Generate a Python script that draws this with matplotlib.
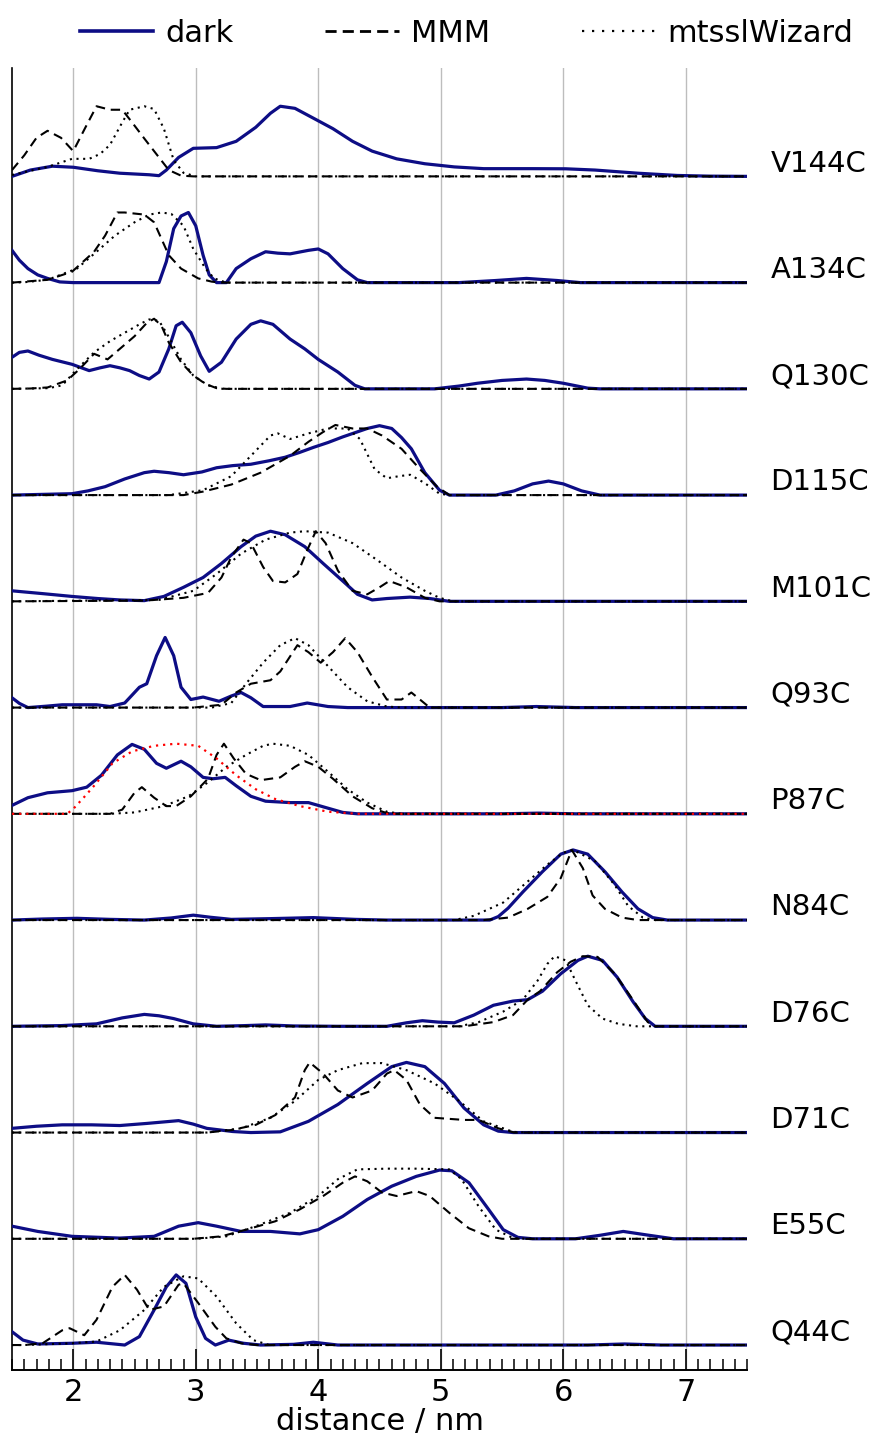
import numpy as np
import matplotlib
matplotlib.use('Agg')
import matplotlib.pyplot as plt
from matplotlib.lines import Line2D

# panel labels, top to bottom
labels = ['V144C', 'A134C', 'Q130C', 'D115C', 'M101C', 'Q93C',
          'P87C', 'N84C', 'D76C', 'D71C', 'E55C', 'Q44C']

# distance distributions (nm, normalised height)
v144c_dark = [(1.5,0.0),(1.65,0.09),(1.83,0.145),(2.0,0.13),(2.2,0.08),(2.38,0.045),(2.62,0.023),(2.70,0.01),(2.76,0.09),(2.86,0.27),(2.98,0.40),(3.17,0.41),(3.33,0.50),(3.49,0.70),(3.61,0.90),(3.69,1.0),(3.81,0.97),(3.96,0.83),(4.12,0.68),(4.28,0.50),(4.44,0.36),(4.64,0.25),(4.87,0.18),(5.11,0.135),(5.35,0.11),(5.74,0.11),(6.02,0.108),(6.26,0.09),(6.61,0.045),(6.93,0.013),(7.2,0.003),(7.5,0.0)]
v144c_mmm = [(1.5,0.09),(1.6,0.3),(1.7,0.55),(1.79,0.65),(1.9,0.55),(2.0,0.36),(2.1,0.7),(2.19,1.0),(2.30,0.95),(2.40,0.95),(2.48,0.77),(2.58,0.54),(2.70,0.27),(2.78,0.09),(2.88,0.01),(2.98,0.0),(7.5,0.0)]
v144c_mtssl = [(1.5,0.02),(1.65,0.08),(1.79,0.135),(1.99,0.25),(2.13,0.25),(2.22,0.32),(2.30,0.45),(2.40,0.77),(2.46,0.95),(2.58,1.0),(2.66,0.96),(2.74,0.68),(2.82,0.23),(2.90,0.05),(3.0,0.0),(7.5,0.0)]

a134c_dark = [(1.5,0.46),(1.56,0.32),(1.63,0.20),(1.71,0.11),(1.79,0.06),(1.89,0.01),(2.0,0.0),(2.70,0.0),(2.76,0.30),(2.82,0.77),(2.88,0.95),(2.94,1.0),(3.0,0.81),(3.06,0.39),(3.11,0.11),(3.17,0.0),(3.25,0.0),(3.33,0.20),(3.45,0.34),(3.57,0.44),(3.67,0.42),(3.77,0.41),(3.92,0.46),(4.0,0.48),(4.08,0.41),(4.20,0.20),(4.32,0.04),(4.40,0.0),(5.15,0.0),(5.45,0.03),(5.70,0.06),(5.95,0.03),(6.14,0.0),(7.5,0.0)]
a134c_mmm = [(1.5,0.0),(1.79,0.04),(1.99,0.155),(2.17,0.44),(2.26,0.67),(2.36,1.0),(2.42,1.0),(2.58,0.97),(2.66,0.86),(2.78,0.39),(2.88,0.20),(3.02,0.06),(3.13,0.014),(3.2,0.0),(7.5,0.0)]
a134c_mtssl = [(1.5,0.0),(1.6,0.005),(1.79,0.04),(2.03,0.20),(2.19,0.44),(2.34,0.67),(2.50,0.86),(2.62,0.97),(2.72,1.0),(2.80,0.98),(2.90,0.81),(2.98,0.48),(3.08,0.20),(3.15,0.06),(3.25,0.0),(7.5,0.0)]

q130c_dark = [(1.5,0.45),(1.56,0.52),(1.63,0.54),(1.72,0.48),(1.83,0.42),(1.99,0.35),(2.13,0.26),(2.22,0.30),(2.30,0.33),(2.38,0.30),(2.46,0.26),(2.54,0.19),(2.62,0.14),(2.70,0.24),(2.78,0.57),(2.84,0.90),(2.89,0.95),(2.96,0.80),(3.04,0.47),(3.11,0.25),(3.21,0.38),(3.33,0.71),(3.45,0.92),(3.53,0.97),(3.63,0.92),(3.77,0.71),(3.89,0.57),(4.0,0.42),(4.16,0.24),(4.30,0.05),(4.38,0.0),(4.95,0.0),(5.15,0.04),(5.3,0.08),(5.5,0.12),(5.7,0.14),(5.85,0.12),(6.0,0.08),(6.2,0.01),(6.3,0.0),(7.5,0.0)]
q130c_mmm = [(1.5,0.0),(1.65,0.005),(1.79,0.02),(1.95,0.12),(2.05,0.28),(2.17,0.50),(2.28,0.42),(2.38,0.57),(2.50,0.75),(2.60,0.94),(2.66,1.0),(2.72,0.90),(2.78,0.66),(2.88,0.38),(2.98,0.19),(3.08,0.07),(3.17,0.01),(3.25,0.0),(7.5,0.0)]
q130c_mtssl = [(1.5,0.0),(1.8,0.01),(1.91,0.05),(2.03,0.28),(2.17,0.52),(2.30,0.68),(2.42,0.80),(2.54,0.92),(2.62,0.99),(2.70,0.97),(2.76,0.80),(2.88,0.42),(2.98,0.19),(3.10,0.05),(3.22,0.0),(7.5,0.0)]

d115c_dark = [(1.5,0.0),(1.99,0.02),(2.12,0.06),(2.26,0.12),(2.42,0.23),(2.58,0.32),(2.66,0.34),(2.78,0.32),(2.90,0.29),(3.05,0.33),(3.17,0.39),(3.30,0.42),(3.45,0.44),(3.60,0.49),(3.73,0.54),(3.85,0.61),(3.96,0.68),(4.08,0.75),(4.20,0.83),(4.30,0.89),(4.40,0.95),(4.50,0.99),(4.60,0.95),(4.68,0.82),(4.76,0.66),(4.87,0.32),(4.99,0.07),(5.07,0.0),(5.45,0.0),(5.6,0.06),(5.75,0.16),(5.88,0.20),(6.0,0.16),(6.15,0.06),(6.3,0.0),(7.5,0.0)]
d115c_mmm = [(1.5,0.0),(2.90,0.0),(3.06,0.05),(3.29,0.15),(3.53,0.32),(3.77,0.56),(3.92,0.76),(4.04,0.90),(4.14,1.0),(4.28,0.95),(4.40,0.95),(4.52,0.85),(4.68,0.66),(4.83,0.37),(4.97,0.12),(5.07,0.0),(7.5,0.0)]
d115c_mtssl = [(1.5,0.0),(2.78,0.0),(3.06,0.07),(3.29,0.27),(3.45,0.56),(3.61,0.85),(3.67,0.88),(3.77,0.80),(3.92,0.88),(4.08,0.95),(4.24,0.95),(4.34,0.80),(4.46,0.37),(4.56,0.24),(4.66,0.27),(4.75,0.29),(4.87,0.17),(4.99,0.02),(5.07,0.0),(7.5,0.0)]

m101c_dark = [(1.5,0.15),(1.75,0.11),(1.99,0.07),(2.2,0.04),(2.38,0.02),(2.58,0.01),(2.74,0.07),(2.90,0.20),(3.06,0.34),(3.21,0.54),(3.37,0.78),(3.49,0.93),(3.61,1.0),(3.73,0.95),(3.89,0.78),(4.04,0.54),(4.20,0.29),(4.32,0.10),(4.44,0.02),(4.56,0.04),(4.75,0.06),(4.91,0.04),(5.07,0.0),(7.5,0.0)]
m101c_mmm = [(1.5,0.0),(2.58,0.01),(2.90,0.05),(3.10,0.12),(3.21,0.34),(3.29,0.63),(3.39,0.88),(3.45,0.83),(3.55,0.49),(3.63,0.29),(3.73,0.27),(3.83,0.39),(3.91,0.73),(3.98,1.0),(4.06,0.83),(4.16,0.44),(4.28,0.15),(4.40,0.10),(4.50,0.2),(4.58,0.29),(4.72,0.20),(4.87,0.05),(4.99,0.0),(7.5,0.0)]
m101c_mtssl = [(1.5,0.0),(2.70,0.02),(2.98,0.15),(3.17,0.39),(3.37,0.68),(3.57,0.88),(3.77,0.98),(3.89,1.0),(4.08,0.98),(4.28,0.83),(4.48,0.59),(4.68,0.34),(4.87,0.15),(4.99,0.05),(5.1,0.0),(7.5,0.0)]

q93c_dark = [(1.5,0.14),(1.56,0.06),(1.63,0.0),(1.78,0.02),(1.91,0.04),(2.19,0.04),(2.30,0.015),(2.42,0.065),(2.54,0.29),(2.60,0.34),(2.68,0.74),(2.75,1.0),(2.82,0.74),(2.88,0.29),(2.96,0.115),(3.06,0.15),(3.19,0.09),(3.29,0.165),(3.37,0.215),(3.45,0.14),(3.55,0.015),(3.77,0.015),(3.91,0.065),(4.08,0.015),(4.24,0.0),(5.5,0.0),(5.78,0.015),(6.1,0.0),(7.5,0.0)]
q93c_mmm = [(1.5,0.0),(2.98,0.0),(3.21,0.04),(3.33,0.215),(3.45,0.34),(3.61,0.39),(3.69,0.515),(3.83,0.89),(3.92,0.79),(4.02,0.64),(4.12,0.79),(4.22,0.99),(4.32,0.79),(4.44,0.44),(4.56,0.115),(4.68,0.115),(4.76,0.215),(4.83,0.115),(4.91,0.0),(7.5,0.0)]
q93c_mtssl = [(1.5,0.0),(3.13,0.0),(3.29,0.065),(3.41,0.34),(3.55,0.64),(3.69,0.89),(3.81,0.99),(3.92,0.89),(4.08,0.59),(4.24,0.29),(4.40,0.09),(4.56,0.015),(4.68,0.0),(7.5,0.0)]

p87c_dark = [(1.5,0.12),(1.63,0.23),(1.79,0.30),(1.99,0.33),(2.11,0.38),(2.23,0.55),(2.36,0.84),(2.48,0.99),(2.58,0.92),(2.68,0.72),(2.76,0.65),(2.88,0.75),(2.96,0.67),(3.06,0.52),(3.14,0.50),(3.24,0.52),(3.33,0.40),(3.45,0.25),(3.57,0.18),(3.77,0.16),(3.92,0.16),(4.08,0.08),(4.20,0.02),(4.32,0.0),(5.5,0.0),(5.8,0.01),(6.1,0.0),(7.5,0.0)]
p87c_mmm = [(1.5,0.0),(2.30,0.0),(2.40,0.06),(2.50,0.30),(2.56,0.38),(2.66,0.23),(2.76,0.11),(2.84,0.11),(2.96,0.25),(3.10,0.50),(3.17,0.84),(3.23,1.0),(3.31,0.79),(3.41,0.57),(3.53,0.48),(3.69,0.52),(3.81,0.67),(3.89,0.75),(4.00,0.67),(4.12,0.50),(4.28,0.25),(4.44,0.08),(4.56,0.01),(4.62,0.0),(7.5,0.0)]
p87c_mtssl = [(1.5,0.0),(2.30,0.0),(2.50,0.02),(2.74,0.11),(2.94,0.25),(3.10,0.45),(3.25,0.67),(3.41,0.84),(3.55,0.97),(3.63,1.0),(3.77,0.97),(3.92,0.84),(4.08,0.60),(4.24,0.35),(4.40,0.16),(4.56,0.03),(4.68,0.0),(7.5,0.0)]
p87c_fit = [(1.5,0.0),(1.95,0.0),(2.0,0.07),(2.1,0.26),(2.17,0.40),(2.32,0.72),(2.48,0.89),(2.66,0.97),(2.84,1.0),(3.02,0.97),(3.17,0.79),(3.33,0.55),(3.49,0.35),(3.65,0.21),(3.85,0.11),(4.08,0.03),(4.32,0.0),(7.5,0.0)]

n84c_dark = [(1.5,0.0),(1.75,0.015),(2.03,0.025),(2.3,0.01),(2.58,0.0),(2.8,0.03),(2.98,0.07),(3.12,0.04),(3.29,0.01),(3.6,0.02),(3.96,0.035),(4.3,0.01),(4.56,0.0),(5.40,0.0),(5.47,0.05),(5.55,0.17),(5.67,0.40),(5.83,0.69),(5.98,0.94),(6.08,1.0),(6.20,0.94),(6.34,0.69),(6.48,0.40),(6.61,0.16),(6.73,0.035),(6.85,0.0),(7.5,0.0)]
n84c_mmm = [(1.5,0.0),(5.35,0.0),(5.55,0.035),(5.71,0.16),(5.87,0.33),(5.98,0.60),(6.07,1.0),(6.16,0.74),(6.24,0.35),(6.34,0.16),(6.48,0.035),(6.61,0.0),(7.5,0.0)]
n84c_mtssl = [(1.5,0.0),(5.11,0.0),(5.27,0.06),(5.51,0.25),(5.71,0.55),(5.87,0.79),(6.00,0.96),(6.08,1.0),(6.26,0.84),(6.42,0.50),(6.53,0.20),(6.65,0.035),(6.75,0.0),(7.5,0.0)]

d76c_dark = [(1.5,0.0),(1.9,0.01),(2.19,0.035),(2.4,0.12),(2.58,0.17),(2.70,0.15),(2.82,0.11),(2.98,0.035),(3.17,0.0),(3.4,0.01),(3.57,0.02),(3.8,0.005),(4.16,0.0),(4.56,0.0),(4.72,0.05),(4.85,0.08),(4.98,0.06),(5.11,0.05),(5.27,0.16),(5.43,0.30),(5.59,0.36),(5.71,0.38),(5.83,0.50),(5.98,0.75),(6.12,0.94),(6.20,1.0),(6.32,0.94),(6.44,0.70),(6.57,0.35),(6.67,0.11),(6.75,0.0),(7.5,0.0)]
d76c_mmm = [(1.5,0.0),(5.19,0.0),(5.43,0.06),(5.59,0.16),(5.71,0.38),(5.81,0.50),(5.95,0.77),(6.06,0.92),(6.16,1.0),(6.28,0.99),(6.42,0.75),(6.56,0.40),(6.69,0.06),(6.75,0.0),(7.5,0.0)]
d76c_mtssl = [(1.5,0.0),(5.15,0.0),(5.31,0.06),(5.51,0.21),(5.67,0.38),(5.79,0.65),(5.87,0.89),(5.93,1.0),(6.02,0.94),(6.10,0.65),(6.20,0.30),(6.32,0.11),(6.45,0.035),(6.6,0.0),(7.5,0.0)]

d71c_dark = [(1.5,0.06),(1.7,0.09),(1.91,0.11),(2.15,0.11),(2.38,0.10),(2.6,0.13),(2.86,0.17),(2.98,0.12),(3.09,0.06),(3.3,0.015),(3.45,0.0),(3.69,0.01),(3.92,0.16),(4.16,0.40),(4.40,0.70),(4.60,0.94),(4.72,1.0),(4.87,0.94),(5.03,0.70),(5.19,0.35),(5.35,0.11),(5.47,0.02),(5.59,0.0),(7.5,0.0)]
d71c_mmm = [(1.5,0.0),(3.09,0.0),(3.29,0.035),(3.49,0.11),(3.65,0.25),(3.81,0.50),(3.89,0.89),(3.93,1.0),(4.04,0.84),(4.16,0.60),(4.28,0.50),(4.44,0.60),(4.56,0.84),(4.62,0.89),(4.72,0.75),(4.83,0.40),(4.95,0.21),(5.19,0.18),(5.31,0.18),(5.47,0.06),(5.6,0.0),(7.5,0.0)]
d71c_mtssl = [(1.5,0.0),(3.09,0.0),(3.37,0.06),(3.61,0.21),(3.81,0.45),(4.00,0.75),(4.16,0.89),(4.36,0.99),(4.52,0.99),(4.72,0.89),(4.95,0.70),(5.15,0.45),(5.35,0.16),(5.59,0.01),(5.7,0.0),(7.5,0.0)]

e55c_dark = [(1.5,0.18),(1.71,0.105),(1.99,0.035),(2.38,0.01),(2.66,0.035),(2.86,0.18),(3.02,0.23),(3.17,0.18),(3.37,0.105),(3.61,0.105),(3.85,0.07),(4.00,0.13),(4.20,0.32),(4.40,0.56),(4.60,0.75),(4.80,0.89),(4.99,0.98),(5.09,0.97),(5.23,0.80),(5.39,0.42),(5.51,0.13),(5.63,0.02),(5.75,0.0),(6.1,0.0),(6.3,0.05),(6.49,0.105),(6.7,0.05),(6.9,0.0),(7.5,0.0)]
e55c_mmm = [(1.5,0.0),(2.98,0.0),(3.21,0.035),(3.41,0.13),(3.65,0.25),(3.85,0.42),(4.04,0.61),(4.20,0.80),(4.30,0.89),(4.40,0.82),(4.52,0.66),(4.64,0.61),(4.80,0.68),(4.91,0.61),(5.07,0.37),(5.23,0.15),(5.39,0.035),(5.5,0.0),(7.5,0.0)]
e55c_mtssl = [(1.5,0.0),(3.0,0.0),(3.25,0.035),(3.49,0.18),(3.77,0.37),(4.00,0.61),(4.16,0.85),(4.32,0.99),(4.56,1.0),(4.8,1.0),(5.07,0.99),(5.17,0.85),(5.31,0.46),(5.45,0.13),(5.59,0.01),(5.7,0.0),(7.5,0.0)]

q44c_dark = [(1.5,0.19),(1.59,0.07),(1.71,0.015),(1.99,0.025),(2.19,0.04),(2.42,0.0),(2.54,0.12),(2.66,0.50),(2.76,0.83),(2.84,1.0),(2.92,0.88),(3.0,0.40),(3.08,0.095),(3.16,0.0),(3.27,0.07),(3.39,0.025),(3.53,0.0),(3.8,0.01),(3.96,0.04),(4.16,0.0),(6.2,0.0),(6.5,0.015),(6.8,0.0),(7.5,0.0)]
q44c_mmm = [(1.5,0.0),(1.6,0.0),(1.75,0.025),(1.91,0.21),(1.97,0.24),(2.09,0.14),(2.19,0.36),(2.32,0.83),(2.42,1.0),(2.52,0.79),(2.62,0.50),(2.74,0.55),(2.86,0.86),(2.90,0.88),(3.02,0.60),(3.16,0.26),(3.25,0.095),(3.37,0.025),(3.5,0.0),(7.5,0.0)]
q44c_mtssl = [(1.5,0.0),(1.59,0.0),(1.99,0.025),(2.19,0.05),(2.38,0.21),(2.58,0.50),(2.74,0.83),(2.90,0.98),(3.02,0.95),(3.17,0.69),(3.33,0.31),(3.47,0.07),(3.6,0.0),(7.5,0.0)]

dark = [v144c_dark, a134c_dark, q130c_dark, d115c_dark, m101c_dark, q93c_dark,
        p87c_dark, n84c_dark, d76c_dark, d71c_dark, e55c_dark, q44c_dark]
mmm = [v144c_mmm, a134c_mmm, q130c_mmm, d115c_mmm, m101c_mmm, q93c_mmm,
       p87c_mmm, n84c_mmm, d76c_mmm, d71c_mmm, e55c_mmm, q44c_mmm]
mtssl = [v144c_mtssl, a134c_mtssl, q130c_mtssl, d115c_mtssl, m101c_mtssl, q93c_mtssl,
         p87c_mtssl, n84c_mtssl, d76c_mtssl, d71c_mtssl, e55c_mtssl, q44c_mtssl]

NAVY = '#0d0d85'
H = 0.66  # peak height relative to panel spacing
plt.rcParams['font.family'] = ['DejaVu Sans']

fig = plt.figure(figsize=(8.85, 14.41), dpi=100)
ax = fig.add_axes([12/885, 71/1441, 735/885, 1302/1441])

n = len(labels)


def draw(curve, off, **kw):
    a = np.array(curve)
    ax.plot(a[:, 0], off + H * a[:, 1], **kw)


for i, lab in enumerate(labels):
    off = n - 1 - i
    draw(dark[i], off, color=NAVY, lw=2.3, zorder=3, solid_joinstyle='round')
    draw(mmm[i], off, color='black', lw=1.5, ls=(0, (4.5, 2.8)), zorder=4)
    draw(mtssl[i], off, color='black', lw=1.5, ls=(0, (1, 2.2)), zorder=5)
    if lab == 'P87C':
        draw(p87c_fit, off, color='red', lw=1.6, ls=(0, (1, 2.2)), zorder=6)
    ax.text(7.69, off + 0.12, lab, fontsize=21, va='center', ha='left',
            clip_on=False)

ax.set_xlim(1.5, 7.5)
ax.set_ylim(-0.235, 12.02)
ax.set_yticks([])
ax.set_xticks([2, 3, 4, 5, 6, 7])
ax.set_xticks(np.arange(1.5, 7.51, 0.1), minor=True)
ax.grid(axis='x', which='major', color='#bdbdbd', lw=1.0, zorder=0)
for s in ['top', 'right']:
    ax.spines[s].set_visible(False)
ax.spines['left'].set_linewidth(1.2)
ax.spines['bottom'].set_linewidth(1.4)
ax.tick_params(axis='x', which='major', direction='in', length=15, width=1.2,
               pad=6, labelsize=22)
ax.tick_params(axis='x', which='minor', direction='in', length=8, width=1.1)
ax.set_xlabel('distance / nm', fontsize=22, labelpad=0)

handles = [Line2D([], [], color=NAVY, lw=2.6),
           Line2D([], [], color='black', lw=2.0, ls=(0, (4, 2.2))),
           Line2D([], [], color='black', lw=1.6, ls=(0, (1, 3.5)))]
fig.legend(handles, ['dark', 'MMM', 'mtsslWizard'], loc='center',
           bbox_to_anchor=(0.527, 1 - 33/1441), ncol=3, frameon=False,
           fontsize=22, handlelength=2.4, handletextpad=0.4,
           columnspacing=3.0, borderaxespad=0)

fig.savefig('out.png', dpi=100)
